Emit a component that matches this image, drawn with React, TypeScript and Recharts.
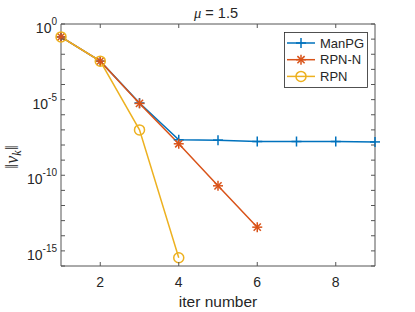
import { LineChart, Line, XAxis, YAxis, Legend } from "recharts"

const iters = [1, 2, 3, 4, 5, 6, 7, 8, 9]
const manpg = [1.4e-1, 3.5e-3, 6.0e-6, 2.2e-8, 2.1e-8, 1.7e-8, 1.7e-8, 1.7e-8, 1.6e-8]
const rpnN = [1.4e-1, 3.5e-3, 5.6e-6, 1.2e-8, 2.0e-11, 3.7e-14]
const rpn = [1.4e-1, 3.5e-3, 1.0e-7, 3.5e-16]

const xTicks = [2, 4, 6, 8]
const yTicks = [1e-16, 1e-15, 1e-14, 1e-13, 1e-12, 1e-11, 1e-10, 1e-9, 1e-8, 1e-7, 1e-6, 1e-5, 1e-4, 1e-3, 1e-2, 1e-1, 1]
const yLabelled = [0, -5, -10, -15]

const series = [
  { key: "manpg", name: "ManPG", color: "#0072BD", marker: "plus" },
  { key: "rpnN", name: "RPN-N", color: "#D95319", marker: "star" },
  { key: "rpn", name: "RPN", color: "#EDB120", marker: "circle" },
]

const data = iters.map((x, i) => ({
  x,
  manpg: manpg[i] ?? null,
  rpnN: rpnN[i] ?? null,
  rpn: rpn[i] ?? null,
}))

const AXIS = "#555"
const TEXT = "#262626"
const FONT = "'Liberation Sans', Arial, sans-serif"

function Marker({ type, cx, cy, color }: any) {
  if (cx == null || cy == null) return null
  if (type === "plus") {
    return (
      <g stroke={color} strokeWidth={1.5}>
        <line x1={cx - 5} x2={cx + 5} y1={cy} y2={cy} />
        <line x1={cx} x2={cx} y1={cy - 5} y2={cy + 5} />
      </g>
    )
  }
  if (type === "star") {
    return (
      <g stroke={color} strokeWidth={1.5}>
        <line x1={cx - 5} x2={cx + 5} y1={cy} y2={cy} />
        <line x1={cx} x2={cx} y1={cy - 5} y2={cy + 5} />
        <line x1={cx - 3.6} x2={cx + 3.6} y1={cy - 3.6} y2={cy + 3.6} />
        <line x1={cx - 3.6} x2={cx + 3.6} y1={cy + 3.6} y2={cy - 3.6} />
      </g>
    )
  }
  return <circle cx={cx} cy={cy} r={5} fill="none" stroke={color} strokeWidth={1.5} />
}

function YTick({ x, y, payload, side }: any) {
  const e = Math.round(Math.log10(payload.value))
  const dir = side === "left" ? 1 : -1
  return (
    <g>
      <line x1={x} x2={x + dir * 4} y1={y} y2={y} stroke={AXIS} />
      {side === "left" && yLabelled.includes(e) && (
        <text x={x - 4} y={y + 9} textAnchor="end" fontSize={14} fill={TEXT} fontFamily={FONT}>
          10
          <tspan dy={-8} fontSize={10}>
            {e}
          </tspan>
        </text>
      )}
    </g>
  )
}

function XTick({ x, y, payload, side }: any) {
  const dir = side === "bottom" ? -1 : 1
  return (
    <g>
      <line x1={x} x2={x} y1={y} y2={y + dir * 4} stroke={AXIS} />
      {side === "bottom" && (
        <text x={x} y={y + 21} textAnchor="middle" fontSize={14} fill={TEXT} fontFamily={FONT}>
          {payload.value}
        </text>
      )}
    </g>
  )
}

function LegendBox() {
  return (
    <svg width={84} height={56} style={{ display: "block" }}>
      <rect x={0.5} y={0.5} width={83} height={55} fill="#fff" stroke={TEXT} strokeWidth={0.8} />
      {series.map((s, i) => {
        const cy = 11 + i * 16.7
        return (
          <g key={s.key}>
            <line x1={3} x2={31} y1={cy} y2={cy} stroke={s.color} strokeWidth={1.5} />
            <Marker type={s.marker} cx={17} cy={cy} color={s.color} />
            <text x={36} y={cy + 4.5} fontSize={13} fill={TEXT} fontFamily={FONT}>
              {s.name}
            </text>
          </g>
        )
      })}
    </svg>
  )
}

export default function App() {
  return (
    <div style={{ position: "absolute", left: 0, top: 0, width: 415, height: 312, background: "#fff" }}>
      <LineChart width={415} height={312} data={data} margin={{ top: 23, right: 39, bottom: 0, left: 0 }}>
        <XAxis
          xAxisId="b"
          dataKey="x"
          type="number"
          domain={[1, 9]}
          ticks={xTicks}
          height={46}
          stroke={AXIS}
          tickLine={false}
          tickSize={0}
          tickMargin={0}
          tick={<XTick side="bottom" />}
          label={{
            content: ({ viewBox }: any) => (
              <text
                x={viewBox.x + viewBox.width / 2}
                y={viewBox.y + 41}
                textAnchor="middle"
                fontSize={15.5}
                fill={TEXT}
                fontFamily={FONT}
              >
                iter number
              </text>
            ),
          }}
        />
        <XAxis
          xAxisId="t"
          orientation="top"
          dataKey="x"
          type="number"
          domain={[1, 9]}
          ticks={xTicks}
          height={1}
          stroke={AXIS}
          tickLine={false}
          tickSize={0}
          tickMargin={0}
          tick={<XTick side="top" />}
          label={{
            content: ({ viewBox }: any) => (
              <text x={viewBox.x + viewBox.width / 2 - 2} y={18} textAnchor="middle" fontSize={14.5} fill={TEXT} fontFamily={FONT}>
                <tspan fontFamily="'Liberation Serif', serif" fontStyle="italic">
                  μ
                </tspan>
                {" = 1.5"}
              </text>
            ),
          }}
        />
        <YAxis
          yAxisId="l"
          scale="log"
          type="number"
          domain={[1e-16, 1]}
          allowDataOverflow
          ticks={yTicks}
          interval={0}
          width={61}
          stroke={AXIS}
          tickLine={false}
          tickSize={0}
          tickMargin={0}
          tick={<YTick side="left" />}
          label={{
            content: ({ viewBox }: any) => {
              const cx = 18
              const cy = viewBox.y + viewBox.height / 2 + 12
              return (
                <text
                  x={cx}
                  y={cy}
                  transform={`rotate(-90 ${cx} ${cy})`}
                  textAnchor="middle"
                  fontSize={18}
                  fill={TEXT}
                  fontFamily="'Liberation Serif', serif"
                >
                  {"‖"}
                  <tspan fontStyle="italic">v</tspan>
                  <tspan fontStyle="italic" fontSize={12} dy={3}>
                    k
                  </tspan>
                  <tspan dy={-3}>{"‖"}</tspan>
                </text>
              )
            },
          }}
        />
        <YAxis
          yAxisId="r"
          orientation="right"
          scale="log"
          type="number"
          domain={[1e-16, 1]}
          allowDataOverflow
          ticks={yTicks}
          interval={0}
          width={1}
          stroke={AXIS}
          tickLine={false}
          tickSize={0}
          tickMargin={0}
          tick={<YTick side="right" />}
        />
        <Legend
          layout="vertical"
          align="center"
          verticalAlign="middle"
          wrapperStyle={{ left: 284, top: 32, width: 84, height: 56 }}
          content={() => <LegendBox />}
        />
        {series.map((s) => (
          <Line
            key={s.key}
            xAxisId="b"
            yAxisId="l"
            dataKey={s.key}
            name={s.name}
            stroke={s.color}
            strokeWidth={1.5}
            isAnimationActive={false}
            connectNulls={false}
            dot={(p: any) => <Marker key={`${s.key}-${p.index}`} type={s.marker} cx={p.cx} cy={p.cy} color={s.color} />}
          />
        ))}
      </LineChart>
    </div>
  )
}
